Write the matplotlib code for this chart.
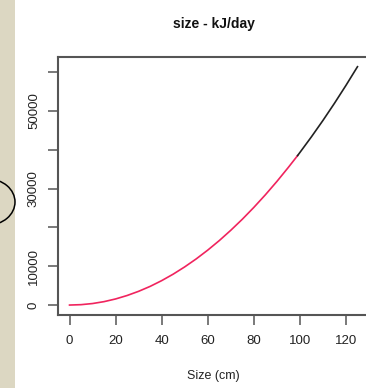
import matplotlib
matplotlib.use("Agg")
import matplotlib.pyplot as plt
from matplotlib.patches import Rectangle, Ellipse

# ---- data ----
size_red = [0, 5, 10, 15, 20, 25, 30, 35, 40, 45, 50, 55, 60, 65, 70, 75, 80, 85, 90, 95, 99]
kj_red = [0, 100, 390, 880, 1570, 2460, 3540, 4810, 6290, 7960, 9830, 11890, 14150,
          16600, 19260, 22100, 25150, 28390, 31830, 35470, 38500]
size_black = [99, 100, 105, 110, 115, 120, 125]
kj_black = [38500, 39300, 43330, 47550, 51970, 56590, 61400]

x_ticks = [0, 20, 40, 60, 80, 100, 120]
y_ticks = [0, 10000, 20000, 30000, 40000, 50000, 60000]
y_labels = ["0", "10000", "", "30000", "", "50000", ""]

plt.rcParams["font.family"] = ["Liberation Sans", "DejaVu Sans"]

W, H = 366, 388
fig = plt.figure(figsize=(W / 100, H / 100), dpi=100)

# beige strip and partial circle on the left edge
fig.patches.append(Rectangle((0, 0), 15 / W, 1, transform=fig.transFigure,
                             facecolor="#DCD7C2", edgecolor="none", zorder=0))
fig.patches.append(Ellipse((-12 / W, 186 / H), 54 / W, 46 / H, transform=fig.transFigure,
                           facecolor="none", edgecolor="black", linewidth=1.1, zorder=1))

ax = fig.add_axes([58 / W, (H - 314.6) / H, (369 - 58) / W, (314.6 - 57) / H])

ax.plot(size_red, kj_red, color="#F0245E", linewidth=1.2)
ax.plot(size_black, kj_black, color="#222222", linewidth=1.2)

ax.set_xlim(-5, 130)
ax.set_ylim(-2460, 63900)

ax.set_xticks(x_ticks)
ax.set_xticklabels([str(t) for t in x_ticks])
ax.set_yticks(y_ticks)
ax.set_yticklabels(y_labels, rotation=90, va="center")

for s in ax.spines.values():
    s.set_color("#555555")
    s.set_linewidth(1.5)

ax.tick_params(axis="both", direction="out", length=7, width=1.1, color="#555555",
               labelsize=9.5, labelcolor="#222222")
ax.tick_params(axis="x", pad=8)
ax.tick_params(axis="y", pad=6)

ax.set_xlabel("Size (cm)", fontsize=9, color="#222222", labelpad=16)
ax.set_title("size - kJ/day", fontsize=10, fontweight="bold", color="#111111", pad=21)

fig.savefig("out.png", dpi=100)
